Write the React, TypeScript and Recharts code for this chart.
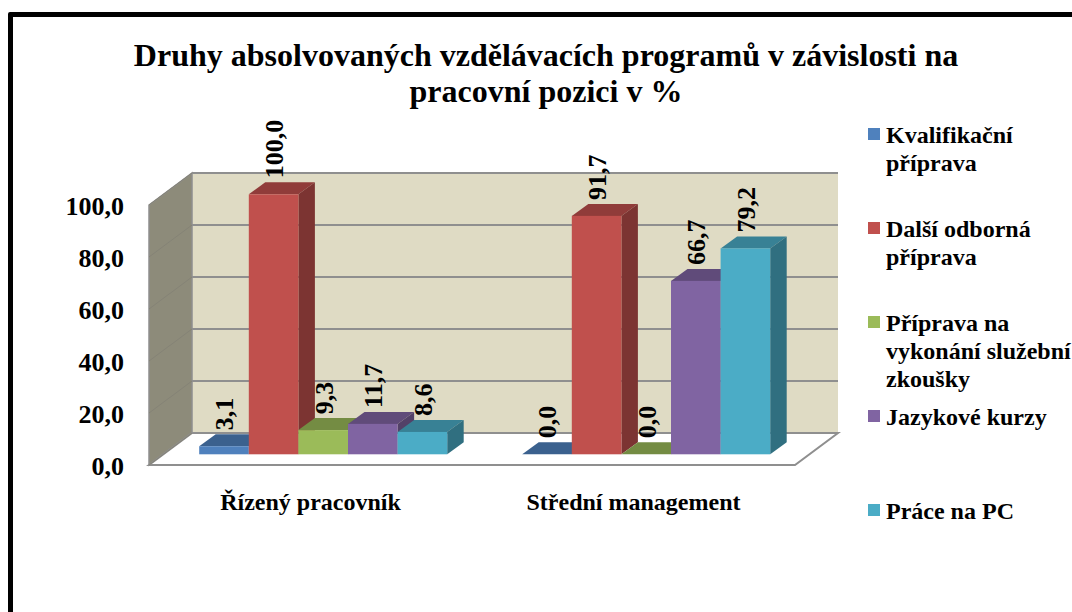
import { Bar, BarChart, CartesianGrid, LabelList, Legend, XAxis, YAxis, usePlotArea } from "recharts";

const categories = ["Řízený pracovník", "Střední management"];
const kvalifikacni = [3.1, 0.0];
const odborna = [100.0, 91.7];
const sluzebni = [9.3, 0.0];
const jazykove = [11.7, 66.7];
const pc = [8.6, 79.2];
const yTicks = [0, 20, 40, 60, 80, 100];

const data = categories.map((name, i) => ({
  name,
  kvalifikacni: kvalifikacni[i],
  odborna: odborna[i],
  sluzebni: sluzebni[i],
  jazykove: jazykove[i],
  pc: pc[i],
}));

const series = [
  { key: "kvalifikacni", name: "Kvalifikační příprava", color: "#4F81BD" },
  { key: "odborna", name: "Další odborná příprava", color: "#C0504D" },
  { key: "sluzebni", name: "Příprava na vykonání služební zkoušky", color: "#9BBB59" },
  { key: "jazykove", name: "Jazykové kurzy", color: "#8064A2" },
  { key: "pc", name: "Práce na PC", color: "#4BACC6" },
];

const FONT = '"Liberation Serif", serif';
const fmt = (v: number) => v.toFixed(1).replace(".", ",");

// depth of the fake 3D box
const WALL_DX = 43;
const WALL_DY = 32;
const BAR_SHIFT_X = 12.2;
const BAR_SHIFT_Y = 10.7;
const BAR_DX = 16.5;
const BAR_DY = 12;

function shade(hex: string, k: number) {
  const n = parseInt(hex.slice(1), 16);
  const c = [(n >> 16) & 255, (n >> 8) & 255, n & 255].map((v) => Math.round(v * k));
  return `rgb(${c[0]},${c[1]},${c[2]})`;
}

function Walls() {
  const plot = usePlotArea();
  if (!plot) return null;
  const { x, y, width, height } = plot;
  const r = x + width;
  const b = y + height;
  const edge = "#8F8F8F";
  return (
    <g>
      <polygon
        points={`${x + WALL_DX},${y - WALL_DY} ${r + WALL_DX},${y - WALL_DY} ${r + WALL_DX},${b - WALL_DY} ${x + WALL_DX},${b - WALL_DY}`}
        fill="#DFDBC4"
      />
      <polygon
        points={`${x},${y} ${x + WALL_DX},${y - WALL_DY} ${x + WALL_DX},${b - WALL_DY} ${x},${b}`}
        fill="#8D8B7A"
        stroke={edge}
        strokeWidth={1.5}
      />
      <polygon
        points={`${x},${b} ${x + WALL_DX},${b - WALL_DY} ${r + WALL_DX},${b - WALL_DY} ${r},${b}`}
        fill="#FFFFFF"
        stroke={edge}
        strokeWidth={2}
      />
    </g>
  );
}

function gridLine(props: any) {
  const { x1, x2, y1 } = props;
  return (
    <g key={`g-${y1}`}>
      <line x1={x1} y1={y1} x2={x1 + WALL_DX} y2={y1 - WALL_DY} stroke="#858376" strokeWidth={1} />
      <line x1={x1 + WALL_DX} y1={y1 - WALL_DY} x2={x2 + WALL_DX} y2={y1 - WALL_DY} stroke="#8F8F8F" strokeWidth={2} />
    </g>
  );
}

function Bar3D(props: any) {
  const { x, y, width, height, fill } = props;
  const l = x + BAR_SHIFT_X;
  const t = y - BAR_SHIFT_Y;
  const r = l + width;
  const b = t + height;
  return (
    <g>
      <polygon points={`${l},${t} ${l + BAR_DX},${t - BAR_DY} ${r + BAR_DX},${t - BAR_DY} ${r},${t}`} fill={shade(fill, 0.75)} />
      <polygon points={`${r},${t} ${r + BAR_DX},${t - BAR_DY} ${r + BAR_DX},${b - BAR_DY} ${r},${b}`} fill={shade(fill, 0.645)} />
      {height > 0 && <rect x={l} y={t} width={width} height={height} fill={fill} />}
    </g>
  );
}

function BarValue(props: any) {
  const { x, y, width, value } = props;
  const px = x + BAR_SHIFT_X + width / 2 + 9.5;
  const py = y - BAR_SHIFT_Y - BAR_DY - 4;
  return (
    <text
      x={px}
      y={py}
      transform={`rotate(-90 ${px} ${py})`}
      fontFamily={FONT}
      fontWeight="bold"
      fontSize={26}
      fill="#000"
    >
      {fmt(value)}
    </text>
  );
}

function LegendBox({ payload }: any) {
  return (
    <div style={{ fontFamily: FONT, fontWeight: "bold", fontSize: 24, lineHeight: "28px", color: "#000" }}>
      {(payload || []).map((p: any) => (
        <div key={p.value} style={{ height: 94, position: "relative", paddingLeft: 18 }}>
          <span style={{ position: "absolute", left: 0, top: 7, width: 12, height: 12, background: p.color }} />
          {p.value}
        </div>
      ))}
    </div>
  );
}

export default function App() {
  return (
    <div style={{ position: "absolute", left: 0, top: 0, width: 1072, height: 612, overflow: "hidden", background: "#fff" }}>
      <div style={{ position: "absolute", left: 8, top: 12, width: 1200, height: 800, border: "5px solid #000", borderRadius: 2 }} />
      <div
        style={{
          position: "absolute",
          left: 0,
          top: 37,
          width: 1092,
          textAlign: "center",
          fontFamily: FONT,
          fontWeight: "bold",
          fontSize: 32,
          lineHeight: "36px",
          color: "#000",
        }}
      >
        Druhy absolvovaných vzdělávacích programů v závislosti na
        <br />
        pracovní pozici v %
      </div>
      <div style={{ position: "absolute", left: 0, top: 0 }}>
        <BarChart
          width={1072}
          height={612}
          data={data}
          margin={{ top: 205, right: 277, bottom: 97, left: 0 }}
          barSize={49.6}
          barGap={0}
        >
          <Walls />
          <CartesianGrid vertical={false} horizontal={gridLine} zIndex={1} />
          <XAxis
            dataKey="name"
            height={50}
            axisLine={false}
            tickLine={false}
            tickMargin={22}
            interval={0}
            tick={{ fontFamily: FONT, fontWeight: "bold", fontSize: 24, fill: "#000" }}
          />
          <YAxis
            width={149}
            domain={[0, 100]}
            ticks={yTicks}
            axisLine={false}
            tickLine={false}
            tickMargin={19}
            tickFormatter={fmt}
            tick={{ fontFamily: FONT, fontWeight: "bold", fontSize: 26, fill: "#000", dy: 1 }}
          />
          <Legend
            layout="vertical"
            align="center"
            verticalAlign="middle"
            itemSorter={null}
            content={LegendBox}
            wrapperStyle={{ position: "absolute", left: 868, top: 121, width: 204 }}
          />
          {series.map((s) => (
            <Bar key={s.key} dataKey={s.key} name={s.name} fill={s.color} shape={Bar3D} legendType="rect" isAnimationActive={false}>
              <LabelList dataKey={s.key} content={BarValue} />
            </Bar>
          ))}
        </BarChart>
      </div>
    </div>
  );
}
